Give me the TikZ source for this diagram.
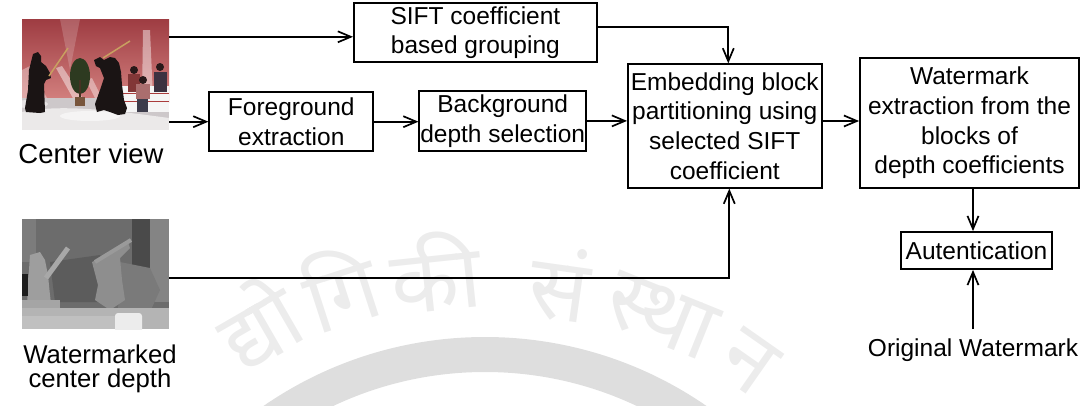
\documentclass[tikz,border=0pt]{standalone}
\usepackage{fontspec}
\setmainfont{Liberation Sans}
\newfontfamily\devafont[Script=Devanagari]{Noto Sans}
\usetikzlibrary{arrows.meta}
\definecolor{wmband}{HTML}{DEDEDE}
\definecolor{wmtext}{HTML}{ECECEC}
\definecolor{skin}{HTML}{1A1414}
\definecolor{redtop}{RGB}{158,60,66}
\definecolor{redbot}{RGB}{212,130,128}
\definecolor{floorc}{RGB}{205,200,202}
\definecolor{trim}{RGB}{170,60,60}
\definecolor{shirtA}{RGB}{130,55,55}
\definecolor{hair}{RGB}{40,25,25}
\definecolor{shirtB}{RGB}{60,50,65}
\definecolor{shirtC}{RGB}{170,110,110}
\definecolor{jeans}{RGB}{60,60,75}
\definecolor{leaf}{RGB}{45,58,32}
\definecolor{trunk}{RGB}{70,50,35}
\definecolor{pot}{RGB}{120,85,60}
\definecolor{bamboo}{RGB}{200,160,96}
\definecolor{dA}{RGB}{108,108,108}
\definecolor{dB}{RGB}{124,124,124}
\definecolor{dC}{RGB}{74,74,74}
\definecolor{dD}{RGB}{132,132,132}
\definecolor{dE}{RGB}{92,92,92}
\definecolor{dF}{RGB}{122,122,122}
\definecolor{dG}{RGB}{158,158,158}
\definecolor{dH}{RGB}{30,30,30}
\definecolor{dI}{RGB}{168,168,168}
\definecolor{dJ}{RGB}{142,142,142}
\definecolor{dK}{RGB}{154,154,154}
\definecolor{dL}{RGB}{165,165,165}
\definecolor{dM}{RGB}{180,180,180}
\definecolor{dN}{RGB}{192,192,192}
\definecolor{dO}{RGB}{236,236,236}
\begin{document}
\begin{tikzpicture}[x=1pt,y=-1pt,
  box/.style={draw, line width=1.8pt, inner sep=0pt, align=center, font=\fontsize{24.5}{29.6}\selectfont},
  arr/.style={line width=1.8pt, -{Straight Barb[length=13pt,width=11pt,line width=1.7pt]}},
  lbl/.style={inner sep=0pt, align=center},
  wmglyph/.style={inner sep=0pt, text=wmtext, font=\devafont\fontsize{88}{88}\selectfont},
  photo/.style={inner sep=0pt, minimum width=147pt, minimum height=111pt}
]
\useasboundingbox (0,0) rectangle (1090,405);

% ---------- faint background watermark ----------
\begin{scope}
\clip (0,0) rectangle (1090,405);
\fill[wmband, even odd rule] (485,727) circle[radius=390pt] (485,727) circle[radius=355pt];
\end{scope}
\node[wmglyph, rotate=30] (w2) at (257,322) {द्यो};
\node[wmglyph, rotate=18] (w3) at (340,287) {गि};
\node[wmglyph, rotate=6]  (w4) at (435,272) {की};
\node[wmglyph, rotate=-8] (w5) at (560,284) {सं};
\node[wmglyph, rotate=-22] (w6) at (661,316) {स्था};
\node[wmglyph, rotate=-35] (w7) at (748,362) {न};

% ---------- center view picture ----------
\node[photo] (cv) at (95.5,74.5) {};
\begin{scope}
\clip (cv.south west) rectangle (cv.north east);
\shade[top color=redtop, bottom color=redbot] (22,19) rectangle (169,102);
\fill[white, opacity=0.35] (22,70) -- (30,66) -- (48,100) -- (22,100) -- cycle;
\fill[white, opacity=0.45] (56,68) -- (62,66) -- (84,100) -- (74,100) -- cycle;
\fill[white, opacity=0.40] (86,80) -- (92,78) -- (103,100) -- (96,100) -- cycle;
\fill[white, opacity=0.45] (143,30) -- (150,30) -- (153,98) -- (142,98) -- cycle;
\fill[white, opacity=0.18] (60,19) -- (80,19) -- (70,70) -- cycle;
\fill[floorc] (22,98) rectangle (169,130);
\fill[white, opacity=0.6] (22,112) .. controls (60,104) and (110,110) .. (169,118) -- (169,130) -- (22,130) -- cycle;
\fill[white, opacity=0.5] (30,104) ellipse[x radius=18pt, y radius=4pt];
\fill[white, opacity=0.5] (90,116) ellipse[x radius=30pt, y radius=5pt];
% bleachers
\fill[white!92!gray] (122,86) rectangle (169,112);
\draw[trim, line width=1pt] (122,93) -- (169,93) (122,101) -- (169,101);
% spectators
\fill[shirtA] (128,74) rectangle (140,92);
\fill[hair] (134,70) circle[radius=4pt];
\fill[shirtB] (154,72) rectangle (167,92);
\fill[hair] (160,67) circle[radius=4pt];
\fill[shirtC] (136,84) rectangle (150,99);
\fill[jeans] (137,99) rectangle (148,112);
\fill[hair] (143,80) circle[radius=4pt];
% plant
\fill[leaf] (80,76) ellipse[x radius=10pt, y radius=18pt];
\draw[trunk, line width=1.5pt] (80,80) -- (80,98);
\fill[pot] (75,97) rectangle (85,106);
% fighters
\fill[skin] (33,54) -- (38,52) -- (41,56) -- (41,62) -- (46,66) -- (50,73) -- (51,78) -- (46,80) -- (44,84) -- (45,112) -- (40,113) -- (26,112) -- (25,108) -- (28,90) -- (29,70) -- (31,62) -- cycle;
\draw[bamboo, line width=1.5pt] (49,76) -- (68,48);
\fill[skin] (94,60) -- (100,57) -- (104,60) -- (110,57) -- (115,58) -- (119,63) -- (121,72) -- (122,85) -- (124,100) -- (127,108) -- (125,114) -- (118,115) -- (110,112) -- (104,110) -- (97,112) -- (95,104) -- (100,90) -- (104,78) -- (100,68) -- (96,66) -- cycle;
\draw[bamboo, line width=1.5pt] (103,58) -- (130,41);
\end{scope}

% ---------- depth picture ----------
\node[photo, minimum height=110pt] (dm) at (95.5,274) {};
\begin{scope}
\clip (dm.south west) rectangle (dm.north east);
\fill[dA] (22,219) rectangle (169,329);
\fill[dB] (22,219) rectangle (36,262);
\fill[dC] (132,219) rectangle (150,286);
\fill[dD] (150,219) rectangle (169,302);
\fill[dE] (50,262) -- (100,255) -- (115,280) -- (100,302) -- (55,302) -- cycle;
\fill[dF] (120,262) -- (150,268) -- (160,290) -- (150,312) -- (118,312) -- cycle;
\fill[dG] (30,255) -- (40,252) -- (45,260) -- (48,275) -- (50,295) -- (52,312) -- (28,312) -- (27,290) -- (29,270) -- cycle;
\fill[dH] (22,274) rectangle (28,296);
\draw[dI, line width=5pt] (46,278) -- (68,248);
\fill[dJ] (92,262) -- (100,258) -- (112,252) -- (128,242) -- (130,248) -- (120,258) -- (122,280) -- (125,300) -- (110,310) -- (95,300) -- (98,285) -- cycle;
\draw[dK, line width=4pt] (95,262) -- (131,240);
\fill[dL] (22,300) rectangle (60,314);
\fill[dM] (22,308) rectangle (169,329);
\fill[dN] (22,316) rectangle (115,329);
\fill[dO, rounded corners=3pt] (115,313) rectangle (142,333);
\end{scope}

% ---------- labels ----------
\node[lbl, anchor=base, font=\fontsize{27.5}{30}\selectfont] (cvl) at (91,163) {Center view};
\node[lbl, anchor=north, font=\fontsize{25.7}{24.6}\selectfont] (dml) at (100,344.5) {Watermarked\\center depth};
\node[lbl, anchor=base, font=\fontsize{24.5}{29}\selectfont] (ow) at (973,356) {Original Watermark};

% ---------- boxes ----------
\node[box, minimum width=243pt, minimum height=59.6pt] (sift) at (475.4,32.5) {SIFT coefficient\\based grouping};
\node[box, minimum width=164pt, minimum height=58.7pt] (fg) at (291.3,121.7) {Foreground\\extraction};
\node[box, minimum width=166.7pt, minimum height=60.3pt] (bg) at (502.7,120.9) {Background\\depth selection};
\node[box, minimum width=193.7pt, minimum height=123.4pt] (emb) at (724.8,126) {Embedding block\\partitioning using\\selected SIFT\\coefficient};
\node[box, minimum width=219pt, minimum height=130pt] (wme) at (969.5,123) {Watermark\\extraction from the\\blocks of\\depth coefficients};
\node[box, minimum width=151pt, minimum height=37pt] (aut) at (976.5,250.5) {Autentication};

% ---------- connectors ----------
\coordinate (siftin) at ([yshift=-4.3pt]sift.west);
\draw[arr] (cv.east |- siftin) -- (siftin);
\draw[arr] (cv.east |- fg.west) -- (fg.west);
\draw[arr] (fg.east) -- (fg.east -| bg.west);
\draw[arr] (bg.east) -- (bg.east -| emb.west);
\coordinate (siftout) at ([yshift=5.5pt]sift.east);
\coordinate (embtop) at ([xshift=3.5pt]emb.north);
\draw[arr] (siftout) -| (embtop);
\coordinate (dmout) at ([yshift=-3.7pt]dm.east);
\coordinate (embbot) at ([xshift=4.5pt]emb.south);
\draw[arr] (dmout) -| (embbot);
\coordinate (embout) at ([yshift=5pt]emb.east);
\draw[arr] (embout) -- (embout -| wme.west);
\draw[arr] (ow |- wme.south) -- (ow |- aut.north);
\coordinate (owtop) at ([yshift=9pt]ow.north);
\draw[arr] (owtop) -- (owtop |- aut.south);
\end{tikzpicture}
\end{document}
